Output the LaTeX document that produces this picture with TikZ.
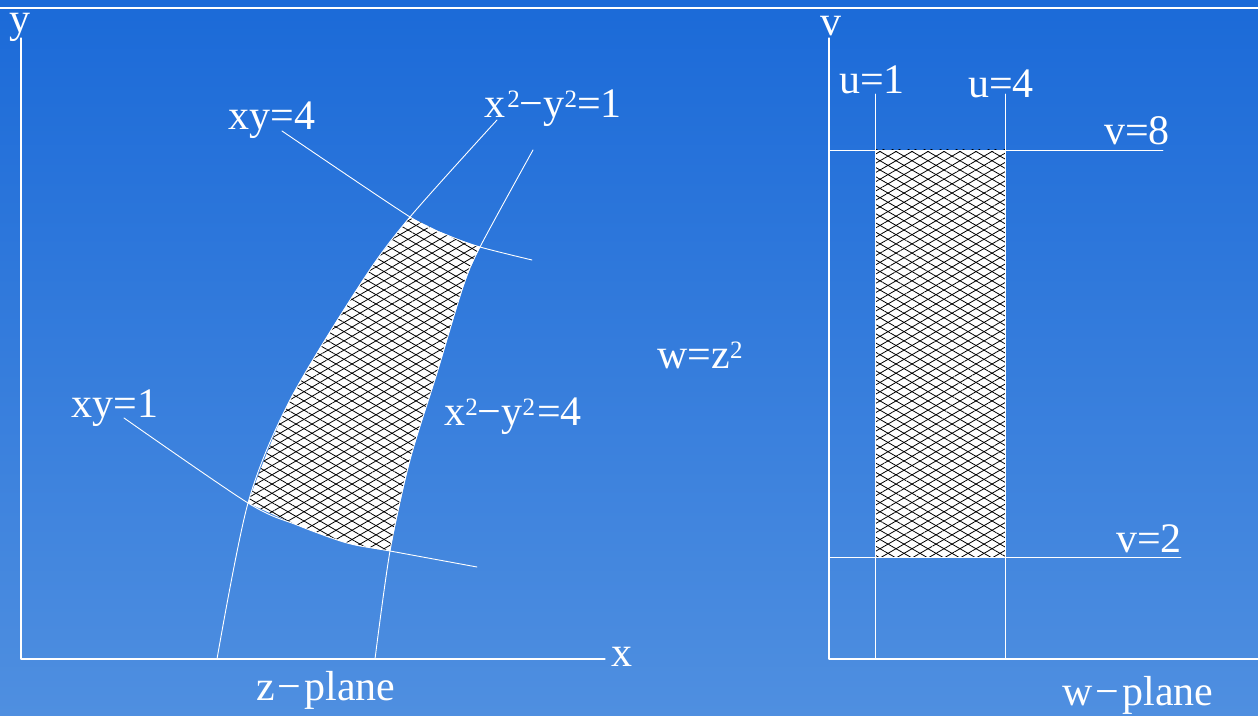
\documentclass[tikz,border=0pt]{standalone}
\usepackage{fontspec}
\setmainfont{Liberation Serif}
\usetikzlibrary{patterns.meta}
\definecolor{nentren}{RGB}{27,106,216}
\definecolor{nenduoi}{RGB}{79,143,224}
\newcommand{\somu}[1]{\raisebox{10pt}{\fontsize{25}{25}\selectfont #1}}
\tikzset{
truc/.style={white, line width=1.3pt},
duong/.style={white, line width=0.9pt},
nhan/.style={text=white, inner sep=0pt, font=\fontsize{42}{44}\selectfont},
luoi/.style={pattern={Lines[angle=30,distance=8pt,line width=0.8pt]}, pattern color=black},
luoinguoc/.style={pattern={Lines[angle=-30,distance=8pt,line width=0.8pt]}, pattern color=black}
}
\begin{document}
\begin{tikzpicture}[x=1pt, y=1pt, line join=round, line cap=round]
\useasboundingbox (0,0) rectangle (1258,715);
%Vẽ nền
\shade[top color=nentren, bottom color=nenduoi] (0,0) rectangle (1258,715);
\coordinate (traitren) at (0,707);
\coordinate (phaitren) at (1258,707);
\draw[white, line width=2pt] (traitren) -- (phaitren);
%Mặt phẳng z
\coordinate (O) at (21,56);
\coordinate (Oy) at (21,677);
\coordinate (Ox) at (605,56);
\draw[truc] (Oy) -- (O) -- (Ox);
\node[nhan] (nhany) at (20,688) {y};
\node[nhan] (nhanx) at (622,58) {x};
\node[nhan] (zplane) at (326,25) {z\kern3pt−\kern3pt plane};
%Vẽ miền gạch
\begin{scope}
\clip plot[smooth] coordinates {(248,212) (290,315) (363,435) (410,498)}
-- plot[smooth] coordinates {(410,498) (447,480) (480,468)}
-- plot[smooth] coordinates {(480,468) (463,428) (437,342) (410,255) (390,164)}
-- plot[smooth] coordinates {(390,164) (347,172) (297,190) (248,212)} -- cycle;
\fill[white] (200,140) rectangle (520,520);
\fill[luoi] (200,140) rectangle (520,520);
\fill[luoinguoc] (200,140) rectangle (520,520);
\end{scope}
%Vẽ các đường cong
\draw[duong] plot[smooth] coordinates {(217,56) (248,212) (290,315) (363,435) (410,498) (497,595)};
\draw[duong] plot[smooth] coordinates {(375,56) (390,164) (410,255) (437,342) (463,428) (480,468) (533,565)};
\draw[duong] plot[smooth] coordinates {(124,297) (248,212) (297,190) (347,172) (390,164) (477,148)};
\draw[duong] plot[smooth] coordinates {(282,584) (410,498) (447,480) (480,468) (532,455)};
\node[nhan] (xy4) at (272,595) {xy=4};
\node[nhan] (hyp1) at (553,607) {x\kern2pt\somu{2}−y\somu{2}=1};
\node[nhan] (xy1) at (115,307) {xy=1};
\node[nhan] (hyp4) at (513,299) {x\somu{2}−y\somu{2}\kern2pt=4};
\node[nhan] (anhxa) at (700,360) {w=z\somu{2}};
%Mặt phẳng w
\coordinate (Ow) at (829,56);
\coordinate (Ov) at (829,677);
\coordinate (Ou) at (1258,56);
\fill[white] (875,158) rectangle (1005,565);
\fill[luoi] (875,158) rectangle (1005,565);
\fill[luoinguoc] (875,158) rectangle (1005,565);
\draw[truc] (Ov) -- (Ow) -- (Ou);
\foreach \u/\ten in {875/u1, 1005/u4}
\draw[duong] (\u,621) coordinate (\ten) -- (\u,56);
\foreach \v/\dai/\ten in {565/1163/v8, 158/1181/v2}
\draw[duong] (829,\v) -- (\dai,\v) coordinate (\ten);
\node[nhan] (nhanv) at (831,689) {v};
\node[nhan] (nhanu1) at (872,635) {u=1};
\node[nhan] (nhanu4) at (1001,631) {u=4};
\node[nhan] (nhanv8) at (1137,584) {v=8};
\node[nhan] (nhanv2) at (1149,176) {v=2};
\node[nhan] (wplane) at (1138,20) {w\kern3pt−\kern3pt plane};
\end{tikzpicture}
\end{document}
